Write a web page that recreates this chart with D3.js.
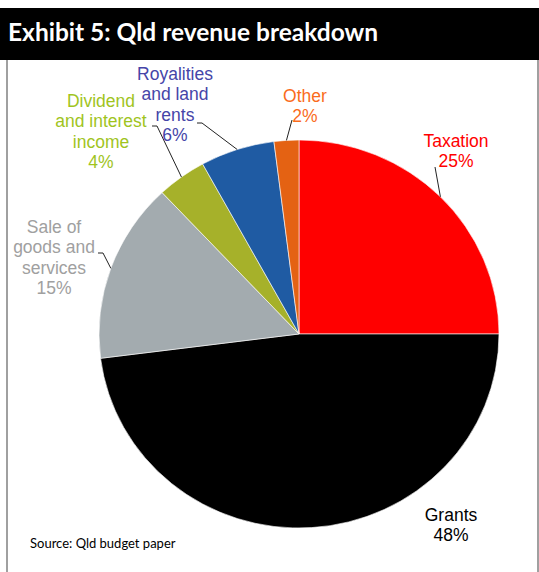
<!DOCTYPE html>
<html>
<head>
<meta charset="utf-8">
<script src="https://cdn.jsdelivr.net/npm/d3@7"></script>
<style>
  html, body { margin: 0; padding: 0; background: #fff; }
  svg { display: block; }
</style>
</head>
<body>
<svg id="chart" width="539" height="572"></svg>
<script>
// Queensland revenue composition, per cent of total
const categories = ["Taxation", "Grants", "Sale of goods and services",
  "Dividend and interest income", "Royalities and land rents", "Other"];
const shares = [25, 48, 15, 4, 6, 2];
const sliceColors = ["#ff0000", "#000000", "#a3abaf", "#a6b12a", "#1f5ba3", "#e46213"];
const labelColors = ["#ff0000", "#000000", "#a0a0a0", "#a0c41e", "#4545a8", "#fa6c1c"];
// label text broken into lines (last line is the percentage)
const labelLines = [
  ["Taxation"], ["Grants"], ["Sale of", "goods and", "services"],
  ["Dividend", "and interest", "income"], ["Royalities", "and land", "rents"], ["Other"]
];
const title = "Exhibit 5: Qld revenue breakdown";
const source = "Source: Qld budget paper";

// layout: label anchor (centre x, first baseline y) and leader start
const labelPos = [
  { x: 456, y: 147, lead: [[435, 167]] },
  { x: 451, y: 521, lead: null },
  { x: 54, y: 233, lead: [[98, 253], [103, 253]] },
  { x: 101, y: 107, lead: [[152, 126], [157, 126]] },
  { x: 175, y: 80, lead: [[197, 123], [202, 123]] },
  { x: 305, y: 102, lead: [[292, 120]] }
];

const W = 539, H = 572;
const cx = 299, cy = 334, r = 200, squash = 0.97;
const lineH = 20.4;

const svg = d3.select("#chart");

// frame
svg.append("rect").attr("x", 6).attr("y", 58).attr("width", 2).attr("height", H - 58).attr("fill", "#a0a0a0");
svg.append("rect").attr("x", 537).attr("y", 58).attr("width", 2).attr("height", H - 58).attr("fill", "#a0a0a0");

// title bar
svg.append("rect").attr("x", 0).attr("y", 8).attr("width", W).attr("height", 52).attr("fill", "#000");
svg.append("text").attr("x", 8).attr("y", 41)
  .attr("font-family", "Lato, 'Open Sans', sans-serif").attr("font-weight", 700)
  .attr("font-size", 24.5).attr("fill", "#fff").text(title);

// pie
const pie = d3.pie().sort(null).value(d => d)(shares);
const arc = d3.arc().innerRadius(0).outerRadius(r);

const g = svg.append("g").attr("transform", `translate(${cx},${cy}) scale(1,${squash})`);
g.selectAll("path").data(pie).join("path")
  .attr("d", arc)
  .attr("fill", (d, i) => sliceColors[i])
  .attr("stroke", "#fff")
  .attr("stroke-width", 0.6)
  .attr("vector-effect", "non-scaling-stroke");

// leader lines to the outer edge at each slice's mid angle
pie.forEach((d, i) => {
  const p = labelPos[i];
  if (!p.lead) return;
  const mid = (d.startAngle + d.endAngle) / 2;
  const end = [cx + Math.sin(mid) * r, cy - Math.cos(mid) * r * squash];
  const pts = p.lead.concat([end]);
  svg.append("path")
    .attr("d", d3.line()(pts))
    .attr("fill", "none").attr("stroke", "#222").attr("stroke-width", 1);
});

// labels
pie.forEach((d, i) => {
  const p = labelPos[i];
  const lines = labelLines[i].concat([shares[i] + "%"]);
  const t = svg.append("text")
    .attr("text-anchor", "middle")
    .attr("font-family", "'Liberation Sans', Arial, sans-serif")
    .attr("font-size", 17.5)
    .attr("fill", labelColors[i]);
  lines.forEach((s, k) => {
    t.append("tspan").attr("x", p.x).attr("y", p.y + k * lineH).text(s);
  });
});

// source note
svg.append("text").attr("x", 30).attr("y", 548)
  .attr("font-family", "Lato, 'Open Sans', sans-serif")
  .attr("font-size", 13).attr("fill", "#000").text(source);
</script>
</body>
</html>
